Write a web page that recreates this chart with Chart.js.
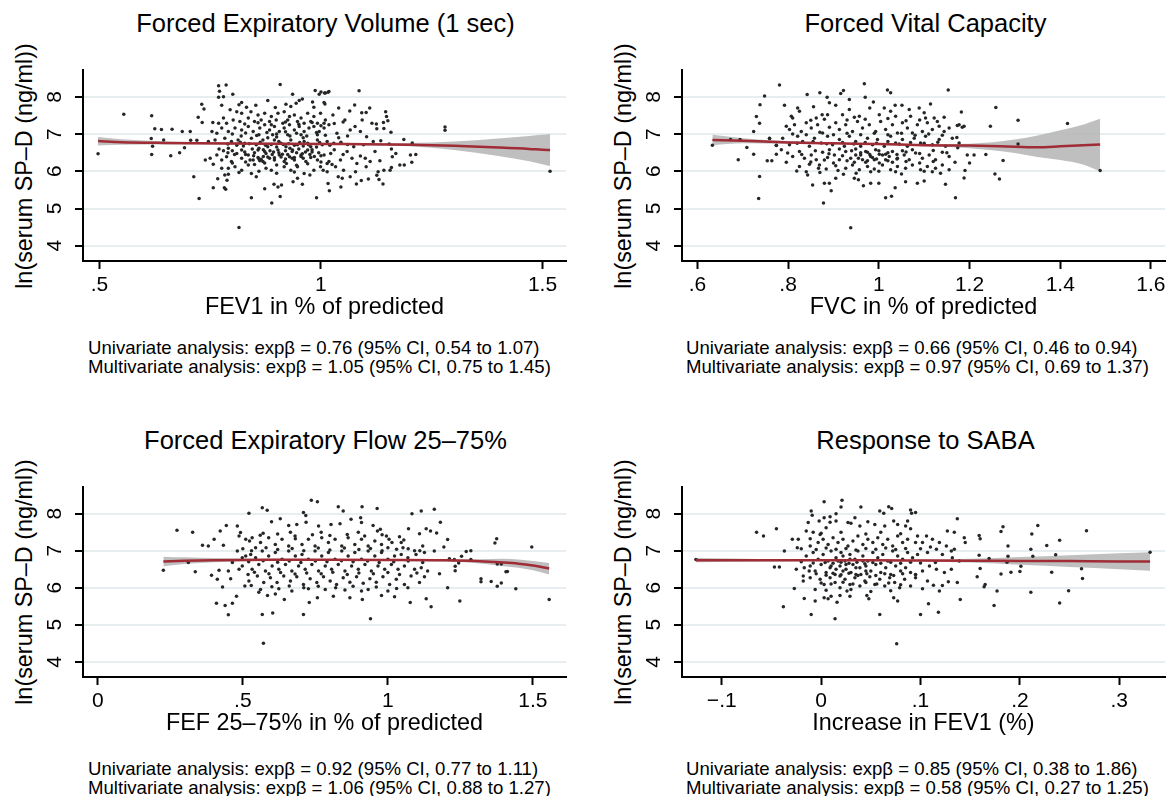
<!DOCTYPE html>
<html>
<head>
<meta charset="utf-8">
<script src="https://cdn.jsdelivr.net/npm/chart.js@4.4.1/dist/chart.umd.min.js"></script>
<style>
  body { margin: 0; background: #fff; width: 1169px; height: 796px; position: relative; overflow: hidden;
         font-family: "Liberation Sans", Arial, Helvetica, sans-serif; color: #000; }
  canvas { position: absolute; }
  .ttl { position: absolute; text-align: center; font-size: 25.5px; line-height: 30px; white-space: nowrap; }
  .note { position: absolute; font-size: 18.6px; line-height: 19px; white-space: nowrap; }
  .ytl { position: absolute; font-size: 23.4px; line-height: 1; white-space: nowrap;
         transform: translate(-50%, -50%) rotate(-90deg); }
</style>
</head>
<body>
<div class="ttl" style="left:83px;width:485px;top:8px">Forced Expiratory Volume (1 sec)</div>
<div class="ttl" style="left:682px;width:487px;top:8px">Forced Vital Capacity</div>
<div class="ttl" style="left:83px;width:485px;top:425px">Forced Expiratory Flow 25–75%</div>
<div class="ttl" style="left:682px;width:487px;top:425px">Response to SABA</div>

<div class="ytl" style="left:25px;top:166px">ln(serum SP–D (ng/ml))</div>
<div class="ytl" style="left:624px;top:166px">ln(serum SP–D (ng/ml))</div>
<div class="ytl" style="left:25px;top:582px">ln(serum SP–D (ng/ml))</div>
<div class="ytl" style="left:624px;top:582px">ln(serum SP–D (ng/ml))</div>

<canvas id="fev1" width="570" height="265" style="left:0;top:60px"></canvas>
<canvas id="fvc" width="570" height="265" style="left:599px;top:60px"></canvas>
<canvas id="fef" width="570" height="265" style="left:0;top:476px"></canvas>
<canvas id="saba" width="570" height="265" style="left:599px;top:476px"></canvas>

<div class="note" style="left:88px;top:338px">Univariate analysis: expβ = 0.76 (95% CI, 0.54 to 1.07)<br>Multivariate analysis: expβ = 1.05 (95% CI, 0.75 to 1.45)</div>
<div class="note" style="left:686px;top:338px">Univariate analysis: expβ = 0.66 (95% CI, 0.46 to 0.94)<br>Multivariate analysis: expβ = 0.97 (95% CI, 0.69 to 1.37)</div>
<div class="note" style="left:88px;top:759px">Univariate analysis: expβ = 0.92 (95% CI, 0.77 to 1.11)<br>Multivariate analysis: expβ = 1.06 (95% CI, 0.88 to 1.27)</div>
<div class="note" style="left:686px;top:759px">Univariate analysis: expβ = 0.85 (95% CI, 0.38 to 1.86)<br>Multivariate analysis: expβ = 0.58 (95% CI, 0.27 to 1.25)</div>

<script>
const FONT = '"Liberation Sans", Arial, Helvetica, sans-serif';

// y axis, shared by all four panels
const yTicks = [4, 5, 6, 7, 8];

// x ticks per panel
const fev1Ticks = [0.5, 1, 1.5];
const fev1TickLabels = ['.5', '1', '1.5'];
const fvcTicks = [0.6, 0.8, 1, 1.2, 1.4, 1.6];
const fvcTickLabels = ['.6', '.8', '1', '1.2', '1.4', '1.6'];
const fefTicks = [0, 0.5, 1, 1.5];
const fefTickLabels = ['0', '.5', '1', '1.5'];
const sabaTicks = [-0.1, 0, 0.1, 0.2, 0.3];
const sabaTickLabels = ['\u2212.1', '0', '.1', '.2', '.3'];

// fitted curve + 95% CI band
const fev1FitX = [0.497, 0.55, 0.65, 0.8, 1.0, 1.2, 1.3, 1.4, 1.47, 1.5, 1.517];
const fev1Fit  = [6.81, 6.78, 6.76, 6.745, 6.735, 6.715, 6.685, 6.64, 6.6, 6.575, 6.57];
const fev1Hi   = [6.92, 6.86, 6.8, 6.775, 6.765, 6.76, 6.8, 6.88, 6.95, 6.98, 7.0];
const fev1Lo   = [6.69, 6.71, 6.72, 6.715, 6.705, 6.67, 6.57, 6.41, 6.27, 6.19, 6.14];

const fvcFitX = [0.633, 0.7, 0.8, 0.9, 1.0, 1.1, 1.2, 1.3, 1.35, 1.4, 1.45, 1.488];
const fvcFit  = [6.84, 6.82, 6.775, 6.75, 6.73, 6.7, 6.69, 6.66, 6.645, 6.67, 6.7, 6.72];
const fvcHi   = [6.98, 6.89, 6.81, 6.775, 6.755, 6.73, 6.74, 6.85, 6.96, 7.1, 7.25, 7.41];
const fvcLo   = [6.7, 6.75, 6.74, 6.725, 6.705, 6.67, 6.62, 6.49, 6.38, 6.3, 6.18, 6.0];

const fefFitX = [0.226, 0.3, 0.4, 0.6, 0.8, 1.0, 1.2, 1.3, 1.4, 1.45, 1.5, 1.556];
const fefFit  = [6.71, 6.73, 6.745, 6.755, 6.755, 6.75, 6.74, 6.72, 6.68, 6.65, 6.6, 6.52];
const fefHi   = [6.84, 6.82, 6.8, 6.78, 6.775, 6.775, 6.77, 6.77, 6.78, 6.76, 6.72, 6.67];
const fefLo   = [6.58, 6.64, 6.69, 6.73, 6.735, 6.725, 6.71, 6.67, 6.58, 6.54, 6.47, 6.36];

const sabaFitX = [-0.126, -0.05, 0, 0.05, 0.1, 0.15, 0.2, 0.25, 0.3, 0.331];
const sabaFit  = [6.745, 6.74, 6.74, 6.74, 6.735, 6.73, 6.725, 6.72, 6.71, 6.71];
const sabaHi   = [6.8, 6.77, 6.76, 6.755, 6.76, 6.78, 6.83, 6.88, 6.93, 6.96];
const sabaLo   = [6.69, 6.71, 6.72, 6.725, 6.71, 6.68, 6.62, 6.56, 6.5, 6.46];

// scatter points [x, ln SP-D]
const fev1Pts = [
  [0.497,6.47],[0.555,7.53],[0.618,7.49],[0.625,7.14],[0.64,7.12],[0.664,7.13],[0.617,6.88],[0.645,6.84],[0.62,6.67],[0.618,6.45],
  [0.661,6.42],[0.687,7.07],[0.705,7.07],[0.692,6.63],[0.681,6.5],[0.706,6.83],[0.72,6.83],[0.713,5.85],[0.725,5.27],[0.731,7.8],
  [0.736,7.67],[0.723,7.45],[0.732,7.31],[0.756,7.31],[0.769,8.3],[0.786,8.32],[0.771,8.15],[0.78,8.0],[0.769,7.99],[0.801,8.07],
  [0.776,7.77],[0.815,4.49],[0.757,5.56],[0.782,5.56],[0.785,5.52],[0.767,5.8],[0.791,5.92],[0.788,5.76],[0.843,5.29],[0.889,5.15],
  [0.908,5.32],[0.908,8.33],[0.88,7.9],[0.897,7.71],[0.873,5.53],[0.894,5.65],[0.903,5.58],[0.911,5.63],[0.936,8.07],[0.937,5.72],
  [0.947,5.81],[0.958,5.65],[0.99,5.29],[0.987,8.17],[1.0,8.13],[1.016,8.12],
  [0.815,7.79],[0.821,7.85],[0.832,7.72],[0.853,7.77],[0.921,7.8],[0.932,7.74],[0.944,7.83],[0.951,7.9],[0.958,7.94],[0.981,7.86],
  [1.007,7.85],[0.984,7.72],[0.996,8.07],[1.008,8.1],
  [0.795,7.65],[0.81,7.6],[0.821,7.56],[0.842,7.6],[0.858,7.51],[0.873,7.56],[0.888,7.47],[0.903,7.56],[0.917,7.6],[0.929,7.47],
  [0.94,7.51],[0.955,7.43],[0.97,7.56],[0.984,7.47],[0.999,7.56],[1.01,7.38],[0.802,7.38],[0.817,7.34],[0.836,7.43],[0.85,7.34],
  [0.865,7.38],[0.884,7.34],[0.899,7.38],[0.914,7.29],[0.925,7.38],[0.947,7.34],[0.962,7.29],[0.977,7.34],[0.992,7.29],[1.007,7.29],
  [0.78,7.43],[0.769,7.29],[0.787,7.29],
  [0.754,7.07],[0.765,7.02],[0.776,7.16],[0.791,7.07],[0.806,7.16],[0.821,7.11],[0.836,7.2],[0.847,7.07],[0.862,7.16],[0.873,7.25],
  [0.884,7.11],[0.895,7.2],[0.906,7.07],[0.917,7.16],[0.929,7.25],[0.94,7.11],[0.951,7.2],[0.962,7.07],[0.973,7.16],[0.984,7.2],
  [0.996,7.07],[1.007,7.16],[1.018,7.25],[0.891,6.98],[0.925,6.98],[0.955,6.98],[0.992,6.98],
  [0.746,6.8],[0.761,6.84],[0.783,6.89],[0.798,6.8],[0.813,6.84],[0.828,6.75],[0.843,6.89],[0.854,6.71],[0.869,6.84],[0.88,6.66],
  [0.895,6.84],[0.91,6.75],[0.921,6.66],[0.932,6.84],[0.947,6.71],[0.962,6.8],[0.977,6.66],[0.992,6.84],[1.003,6.71],[1.014,6.8],
  [0.791,6.62],[0.821,6.57],[0.858,6.57],[0.903,6.57],[0.936,6.57],[0.97,6.57],
  [0.739,6.3],[0.75,6.35],[0.765,6.44],[0.776,6.3],[0.787,6.39],[0.798,6.26],[0.81,6.48],[0.821,6.35],[0.836,6.44],[0.847,6.3],
  [0.858,6.37],[0.869,6.26],[0.876,6.48],[0.884,6.35],[0.895,6.3],[0.906,6.44],[0.917,6.26],[0.929,6.39],[0.94,6.3],[0.955,6.44],
  [0.966,6.26],[0.977,6.37],[0.992,6.3],[1.007,6.44],[1.018,6.26],[0.873,6.53],[0.862,6.28],[0.865,6.32],
  [0.757,6.19],[0.791,6.08],[0.806,6.12],[0.821,6.03],[0.836,6.17],[0.843,5.94],[0.854,5.85],[0.876,6.08],[0.888,6.03],[0.917,6.12],
  [0.932,6.03],[0.947,6.12],[0.962,5.94],[0.984,6.03],[0.999,6.12],[1.014,5.99],[0.776,6.08],[0.783,5.9],
  [1.018,8.14],[1.01,8.1],[1.086,8.16],[1.009,7.81],[1.076,7.78],[1.04,7.7],[1.11,7.7],[1.065,7.62],[1.092,7.57],[1.102,7.58],
  [1.146,7.6],[1.148,7.47],[1.151,7.36],[1.027,7.51],[1.054,7.38],[1.05,7.32],[1.093,7.38],[1.115,7.29],[1.125,7.27],[1.141,7.31],
  [1.142,7.15],[1.158,7.05],[1.126,7.14],[1.28,7.19],[1.28,7.1],[1.187,6.85],[1.206,6.76],[1.214,6.45],[1.202,6.44],[1.205,6.24],
  [1.188,6.17],[1.178,6.17],[1.169,6.48],[1.161,6.39],[1.159,6.6],[1.154,6.73],[1.135,6.82],[1.133,6.28],[1.156,6.03],[1.159,6.1],
  [1.142,6.03],[1.129,5.99],[1.126,5.89],[1.14,5.66],[1.131,5.78],[1.107,5.79],[1.091,5.75],[1.08,5.66],[1.066,5.85],[1.048,5.81],
  [1.039,5.85],[1.045,5.58],[1.019,5.48],[1.016,5.67],[1.517,6.0],[1.078,5.99],[1.102,6.12],[1.111,6.26],[1.1,6.35],[1.089,6.41],
  [1.081,6.21],[1.07,6.35],[1.059,6.53],[1.051,6.03],[1.122,6.53],[1.118,6.8],[1.103,6.93],[1.089,7.07],[1.077,7.2],[1.066,7.11],
  [1.096,6.71],[1.074,6.66],[1.036,7.02],[1.029,6.75],[1.022,6.48],[1.014,6.21],[1.044,6.3],[1.033,6.12],
  [0.86,6.62],[0.87,6.4],[0.875,6.7],[0.885,6.55],[0.89,6.45],[0.9,6.65],[0.905,6.5],[0.91,6.38],[0.915,6.72],[0.92,6.55],
  [0.925,6.45],[0.93,6.62],[0.935,6.35],[0.94,6.7],[0.945,6.5],[0.95,6.6],[0.955,6.4],[0.96,6.68],[0.965,6.52],[0.97,6.75],
  [0.975,6.45],[0.98,6.58],[0.985,6.4],[0.99,6.65],[0.995,6.5],[0.85,6.5],[0.845,6.6],[0.83,6.45],[0.825,6.68],[0.84,6.3],
  [0.88,6.9],[0.9,6.92],[0.93,6.95],[0.96,6.9],[0.86,6.98],[0.82,6.95],[0.8,6.55],[0.81,6.7],[0.79,6.5],[0.77,6.6],
  [0.828,7.27],[0.858,7.3],[0.888,7.25],[0.92,7.32],[0.95,7.26],[0.98,7.31],[1.0,7.22],[1.03,7.28],
  [0.8,7.0],[0.83,7.03],[0.855,6.96],[0.878,7.04],[0.9,7.0],[0.92,7.06],[0.945,7.02],[0.968,6.95],[0.99,7.04],[1.01,6.97],
  [1.04,6.9],[1.06,6.95],
  [0.79,6.73],[0.818,6.78],[0.838,6.74],[0.863,6.78],[0.888,6.72],[0.905,6.8],[0.927,6.74],[0.952,6.77],[0.972,6.71],[0.997,6.77],
  [1.02,6.7],[1.045,6.78],[1.06,6.72],
  [0.78,6.55],[0.805,6.45],[0.828,6.52],[0.848,6.42],[0.87,6.58],[0.893,6.52],[0.913,6.46],[0.935,6.53],[0.958,6.47],[0.98,6.52],
  [1.0,6.42],[1.03,6.58],[1.05,6.45],
  [0.8,6.22],[0.83,6.25],[0.85,6.18],[0.873,6.22],[0.9,6.17],[0.922,6.21],[0.945,6.16],[0.97,6.2],[1.0,6.25],[1.025,6.18],
  [0.815,5.97],[0.86,6.0],[0.9,5.95],[0.94,5.98],[0.975,5.9],[1.005,6.03],
  [0.86,6.33],[0.88,6.38],[0.895,6.36],[0.92,6.33],[0.94,6.37],[0.96,6.35]
];

const fvcPts = [
  [0.781,8.32],[0.748,8.02],[0.738,7.79],[0.73,7.47],[0.737,7.29],[0.724,7.07],[0.709,6.64],[0.724,6.46],[0.737,5.86],[0.735,5.27],
  [0.792,7.77],[0.842,8.06],[0.87,8.11],[0.886,7.99],[0.916,8.09],[0.922,8.17],[0.935,7.93],[0.968,8.35],[0.97,7.99],[1.019,8.18],
  [1.026,8.11],[1.153,8.18],[1.114,7.81],[1.182,7.59],[1.173,7.23],[1.184,7.18],[1.195,6.44],[1.21,6.44],[1.2,6.22],[1.19,6.02],
  [1.169,5.29],[0.938,4.48],[0.878,5.15],[0.854,5.63],[0.895,5.48],[0.891,5.68],[0.84,5.99],[0.819,6.01],[0.796,6.24],[0.764,6.28],
  [0.754,6.28],[0.774,6.46],[1.015,5.29],[1.028,5.33],[1.036,5.56],[1.147,5.65],[1.168,6.24],[1.155,6.04],[1.136,5.95],[1.118,5.99],
  [1.1,5.74],[1.085,5.68],[1.059,5.72],[1.0,5.68],[0.982,5.68],[0.966,5.61],[0.946,5.81],[0.955,5.77],[0.922,5.92],[0.905,5.81],
  [0.88,5.68],[0.867,6.08],[0.843,5.9],
  [0.633,6.7],[0.673,6.85],[0.694,6.85],[0.69,6.31],[0.759,6.88],[0.774,6.7],
  [1.172,6.91],[1.174,6.63],[1.188,5.82],[1.236,6.45],[1.246,7.21],[1.258,7.71],[1.256,5.93],[1.266,5.79],[1.274,6.29],[1.307,7.37],
  [1.307,6.73],[1.416,7.28],[1.488,6.02],
  [0.807,7.48],[0.821,7.7],[0.856,7.73],[0.875,7.52],[0.891,7.84],[0.905,7.77],[0.935,7.66],[0.957,7.48],[0.98,7.7],[0.988,7.86],
  [1.012,7.7],[1.026,7.61],[1.036,7.77],[1.051,7.77],[1.067,7.66],[1.089,7.7],[1.1,7.57],[1.129,7.34],[1.144,7.45],[0.81,7.43],
  [0.825,7.61],[0.862,7.43],[0.887,7.52],[0.92,7.52],[0.946,7.45],[1.001,7.52],[1.037,7.48],[1.07,7.48],[1.103,7.43],[1.122,7.43],
  [0.796,7.21],[0.803,7.12],[0.814,7.25],[0.829,7.07],[0.84,7.3],[0.851,7.16],[0.865,7.25],[0.876,7.03],[0.891,7.18],[0.905,7.3],
  [0.913,7.12],[0.927,7.25],[0.942,7.07],[0.953,7.34],[0.964,7.16],[0.979,7.25],[0.993,7.07],[1.004,7.34],[1.015,7.12],[1.03,7.25],
  [1.041,7.03],[1.052,7.3],[1.063,7.16],[1.074,7.03],[1.085,7.25],[1.096,7.07],[1.107,7.3],[1.118,7.12],[1.133,7.21],[1.144,7.07],
  [1.155,7.16],[1.177,7.25],[1.188,7.21],
  [0.788,6.89],[0.803,6.71],[0.821,6.94],[0.832,6.8],[0.847,6.67],[0.858,6.89],[0.873,6.76],[0.887,6.94],[0.898,6.71],[0.913,6.85],
  [0.924,6.67],[0.935,6.94],[0.949,6.8],[0.96,6.67],[0.975,6.89],[0.986,6.71],[0.997,6.85],[1.012,6.67],[1.026,6.94],[1.037,6.76],
  [1.052,6.85],[1.063,6.67],[1.078,6.89],[1.092,6.76],[1.103,6.94],[1.118,6.71],[1.133,6.85],[1.147,6.67],[1.162,6.89],[1.177,6.76],
  [0.759,6.89],[0.774,6.69],[0.785,6.58],
  [0.799,6.49],[0.81,6.4],[0.825,6.53],[0.836,6.35],[0.851,6.44],[0.862,6.31],[0.876,6.51],[0.887,6.37],[0.902,6.44],[0.913,6.31],
  [0.927,6.53],[0.938,6.35],[0.949,6.44],[0.964,6.31],[0.975,6.51],[0.986,6.37],[1.001,6.46],[1.015,6.31],[1.03,6.53],[1.041,6.35],
  [1.056,6.44],[1.067,6.31],[1.081,6.49],[1.096,6.35],[1.111,6.44],[1.125,6.31],[1.14,6.51],[1.155,6.4],[0.946,6.24],[0.971,6.24],
  [1.001,6.22],
  [0.825,6.13],[0.847,6.19],[0.869,6.17],[0.884,6.06],[0.905,6.15],[0.927,6.08],[0.942,6.17],[0.957,6.04],[0.975,6.13],[0.99,6.06],
  [1.008,6.17],[1.026,6.04],[1.041,6.13],[1.059,6.08],[1.074,6.17],[1.092,6.04],[1.107,6.13],[1.125,6.08],[1.14,6.17],[0.982,5.99],
  [1.037,5.99],
  [0.971,6.53],[0.982,6.4],[0.993,6.58],[1.008,6.44],[1.023,6.4],[0.96,6.44],[0.99,6.31],[1.015,6.46],[1.03,6.24],[0.949,6.6],
  [0.913,6.6],[0.891,6.58],[1.052,6.55],[1.074,6.58],
  [0.85,7.37],[0.88,7.4],[0.93,7.38],[0.97,7.4],[1.02,7.42],[1.06,7.36],[1.09,7.38],
  [0.81,7.0],[0.84,6.98],[0.87,7.05],[0.9,6.98],[0.93,7.02],[0.96,6.98],[0.99,7.02],[1.02,6.98],[1.05,7.02],[1.08,6.97],
  [1.11,7.0],[1.14,6.97],
  [0.82,6.75],[0.855,6.8],[0.885,6.74],[0.92,6.77],[0.945,6.73],[0.97,6.77],[0.995,6.75],[1.02,6.8],[1.045,6.73],[1.07,6.77],
  [1.1,6.75],[1.13,6.78],
  [0.83,6.45],[0.86,6.55],[0.89,6.47],[0.92,6.42],[0.94,6.55],[0.96,6.5],[0.98,6.45],[1.0,6.55],[1.02,6.5],[1.04,6.45],
  [1.06,6.52],[1.09,6.48],[1.12,6.56],[1.15,6.5],
  [0.85,6.25],[0.88,6.3],[0.9,6.22],[0.93,6.28],[0.955,6.35],[0.975,6.28],[0.995,6.33],[1.02,6.28],[1.04,6.33],[1.06,6.26],
  [1.09,6.22],[1.12,6.26],
  [0.87,5.97],[0.91,6.02],[0.95,5.95],[1.0,6.0],[1.05,5.93],[1.1,6.0]
];

const fefPts = [
  [0.226,6.47],
  [0.273,7.55],[0.327,7.5],[0.312,6.68],[0.336,6.43],[0.361,7.15],[0.381,7.13],[0.392,6.34],[0.401,7.31],[0.409,5.58],[0.422,7.53],
  [0.43,6.02],[0.439,5.52],[0.45,5.27],[0.464,5.58],[0.478,5.77],[0.433,7.15],[0.443,7.68],[0.481,7.67],[0.487,7.4],[0.492,7.49],
  [0.521,8.01],[0.567,8.16],[0.584,8.09],[0.567,5.28],[0.603,5.32],[0.571,4.5],[0.709,5.28],[0.736,8.36],[0.757,8.32],[0.829,8.19],
  [0.846,8.07],[0.911,8.19],[0.963,8.14],[0.94,5.16],[0.869,5.73],[0.909,5.91],[0.912,5.68],[0.978,5.79],[1.023,5.76],[1.077,5.6],
  [1.132,5.7],[1.149,5.49],[1.083,8.0],[1.115,8.07],[1.16,8.12],[1.071,7.59],[1.109,7.46],[1.132,7.59],[1.147,7.53],[1.055,7.29],
  [1.12,7.13],[1.092,7.0],[0.812,5.77],[0.729,5.6],[0.757,5.73],[0.643,5.68],[0.612,5.83],[0.585,5.79],[0.555,5.88],[0.507,6.05],
  [0.529,6.06],[0.518,6.36],[0.487,6.5],[0.418,6.47],[0.412,6.23],[0.458,6.24],[0.45,6.45],[0.464,6.68],[0.498,6.81],[0.481,6.99],
  [0.527,6.9],[0.544,7.08],[0.532,7.35],[0.523,7.26],[0.57,7.47],[0.599,7.78],[0.629,7.86],[0.658,7.68],[0.664,7.5],[0.686,7.71],
  [0.709,8.03],[0.717,7.95],[0.718,7.77],[0.761,7.67],[0.77,7.5],[0.804,7.71],[0.835,7.73],[0.873,7.85],[0.906,7.89],[0.909,7.76],
  [0.898,7.5],[0.949,7.68],[0.964,7.53],[0.974,7.58],[0.995,7.4],[1.004,7.31],[1.014,7.22],
  [1.181,7.77],[1.168,7.48],[1.206,7.3],[1.193,7.1],[1.212,6.78],[1.229,6.76],[1.254,6.85],[1.286,7.0],[1.286,6.76],[1.232,6.46],
  [1.206,6.0],[1.248,5.64],[1.178,6.38],[1.321,6.24],[1.321,6.16],[1.356,6.17],[1.369,7.21],[1.375,7.32],[1.377,6.64],[1.391,6.64],
  [1.407,6.43],[1.412,6.44],[1.377,6.04],[1.391,6.13],[1.441,5.97],[1.496,7.1],[1.556,5.68],[1.27,6.98],[1.244,6.67],[1.232,6.58],
  [0.51,7.31],[0.561,7.22],[0.589,7.35],[0.612,7.17],[0.635,7.31],[0.658,7.13],[0.681,7.32],[0.704,7.17],[0.726,7.31],[0.749,7.13],
  [0.772,7.35],[0.795,7.22],[0.818,7.31],[0.841,7.13],[0.863,7.35],[0.886,7.17],[0.909,7.31],[0.932,7.13],[0.955,7.26],[0.978,7.17],
  [1.0,7.08],[1.046,7.22],[1.052,7.08],
  [0.51,6.86],[0.544,6.81],[0.567,6.99],[0.589,6.86],[0.612,6.95],[0.635,6.77],[0.658,6.99],[0.681,6.86],[0.704,6.9],[0.726,6.77],
  [0.749,6.99],[0.772,6.86],[0.795,6.95],[0.818,6.77],[0.841,6.99],[0.863,6.86],[0.886,6.95],[0.909,6.77],[0.932,6.99],[0.955,6.86],
  [0.978,6.95],[1.0,6.77],[1.023,6.86],[1.046,6.9],[1.069,6.81],[1.097,6.9],[1.126,6.95],[1.16,6.99],
  [0.498,6.59],[0.532,6.5],[0.555,6.63],[0.578,6.45],[0.601,6.59],[0.624,6.5],[0.647,6.63],[0.669,6.45],[0.692,6.59],[0.715,6.5],
  [0.738,6.63],[0.761,6.45],[0.784,6.59],[0.806,6.5],[0.829,6.63],[0.852,6.45],[0.875,6.59],[0.898,6.5],[0.921,6.63],[0.943,6.45],
  [0.966,6.59],[0.989,6.5],[1.012,6.63],[1.035,6.5],[1.057,6.59],[1.092,6.5],[1.115,6.54],[1.137,6.45],
  [0.521,6.18],[0.55,6.32],[0.572,6.14],[0.595,6.27],[0.618,6.14],[0.641,6.32],[0.664,6.18],[0.686,6.3],[0.709,6.09],[0.732,6.24],
  [0.755,6.14],[0.778,6.3],[0.801,6.18],[0.823,6.09],[0.846,6.27],[0.869,6.15],[0.892,6.3],[0.915,6.12],[0.938,6.24],[0.96,6.15],
  [0.983,6.3],[1.006,6.09],[1.029,6.23],[1.057,6.09],[1.08,6.32],[1.109,6.14],[1.126,6.3],
  [0.561,5.95],[0.624,5.97],[0.669,5.91],[0.726,5.97],[0.784,5.95],[0.852,5.94],[0.932,5.95],[1.0,5.91],[1.069,6.0],
  [0.56,7.42],[0.62,7.45],[0.68,7.4],[0.74,7.43],[0.8,7.41],[0.86,7.44],[0.92,7.4],[0.98,7.43],[1.04,7.38],
  [0.5,7.05],[0.53,7.0],[0.58,7.08],[0.62,7.03],[0.67,7.06],[0.71,7.0],[0.76,7.07],[0.8,7.02],[0.85,7.07],[0.9,7.03],
  [0.94,7.06],[0.98,7.0],[1.03,7.04],[1.07,7.05],[1.11,7.0],
  [0.52,6.7],[0.57,6.73],[0.62,6.69],[0.66,6.72],[0.7,6.68],[0.75,6.72],[0.79,6.7],[0.84,6.73],[0.88,6.7],[0.93,6.72],
  [0.97,6.68],[1.02,6.7],[1.07,6.72],[1.12,6.68],
  [0.54,6.42],[0.59,6.38],[0.63,6.41],[0.68,6.37],[0.72,6.4],[0.77,6.38],[0.81,6.42],[0.86,6.36],[0.9,6.4],[0.95,6.38],
  [1.0,6.41],[1.04,6.36],[1.1,6.4],
  [0.6,6.03],[0.66,6.05],[0.71,6.0],[0.76,6.04],[0.82,6.0],[0.88,6.04],[0.96,6.02],[1.03,5.98]
];

const sabaPts = [
  [-0.126,6.76],[-0.065,7.5],
  [-0.058,7.4],[-0.045,7.59],[-0.047,6.56],[-0.042,6.56],[-0.037,6.99],[-0.038,5.49],[-0.029,7.31],[-0.027,5.98],[-0.024,7.08],
  [-0.023,7.31],[-0.017,5.71],[-0.01,5.28],[-0.01,8.07],[-0.009,7.96],[-0.006,5.64],[0.003,8.32],[0.014,5.16],[0.021,8.36],[0.02,8.18],
  [0.04,8.18],[0.015,8.0],[0.009,7.92],[0.003,7.89],[-0.002,7.8],[0.059,8.07],[0.063,8.01],[0.068,8.19],[0.071,8.14],[0.09,8.1],
  [0.091,8.01],[0.095,8.03],[0.087,7.8],[0.073,7.8],[0.137,7.86],[0.127,7.53],[0.134,7.5],[0.144,7.35],[0.145,7.22],[0.159,7.41],
  [0.16,7.32],[0.159,6.88],[0.169,6.79],[0.16,6.52],[0.157,6.3],[0.165,6.09],[0.164,6.03],[0.177,5.91],[0.174,5.52],[0.14,5.68],
  [0.137,6.14],[0.128,6.16],[0.119,5.91],[0.118,5.34],[0.122,6.06],[0.113,6.07],[0.108,5.57],[0.1,5.28],[0.076,4.49],[0.077,5.64],
  [0.073,5.73],[0.059,5.28],[0.048,5.7],[0.046,5.79],[0.029,5.77],[0.026,5.91],[0.019,5.79],[0.016,5.61],[0.01,5.77],[0.007,5.7],
  [0.003,5.73],[-0.006,5.95],[-0.011,6.27],[-0.018,6.18],[-0.018,6.32],[-0.025,6.5],[-0.017,6.54],[-0.012,6.45],[-0.015,7.53],[-0.013,7.76],
  [-0.008,7.5],[-0.011,7.32],[-0.001,7.44],[0.005,7.62],[0.009,7.77],[0.015,7.8],[0.027,7.76],[0.03,7.74],[0.034,7.89],[0.039,7.67],
  [0.047,7.78],[0.054,7.71],[0.064,7.67],[0.077,7.71],[0.085,7.67],[0.09,7.59],[0.097,7.4],[0.106,7.4],[0.112,7.31],[0.119,7.22],
  [0.126,7.13],[0.131,6.99],[0.134,7.04],[0.116,7.04],[0.107,6.95],[0.102,7.22],[0.095,7.22],[0.122,6.9],[0.132,6.81],[0.139,6.72],
  [0.131,6.5],[0.124,6.41],[0.116,6.5],[0.109,6.59],[0.102,6.45],[0.095,6.27],[0.09,6.05],[0.102,5.97],[0.095,6.36],[0.107,6.18],
  [0.183,7.65],[0.181,7.52],[0.188,7.13],[0.188,6.85],[0.187,6.69],[0.181,6.37],[0.191,6.42],[0.201,6.58],[0.2,6.44],[0.211,5.88],
  [0.211,7.04],[0.212,7.45],[0.213,6.85],[0.218,7.68],[0.227,7.14],[0.232,6.42],[0.236,6.89],[0.24,7.28],[0.24,5.59],[0.249,5.92],
  [0.262,6.51],[0.263,6.25],[0.267,7.54],[0.331,6.96],
  [-0.011,7.13],[-0.003,7.22],[0.002,7.31],[0.007,7.17],[0.012,7.35],[0.017,7.22],[0.022,7.31],[0.027,7.13],[0.032,7.26],[0.037,7.4],
  [0.042,7.17],[0.047,7.31],[0.052,7.22],[0.057,7.35],[0.062,7.17],[0.067,7.31],[0.072,7.13],[0.077,7.4],[0.082,7.22],[0.087,7.31],
  [-0.015,6.86],[-0.008,6.95],[-0.003,6.77],[0.002,6.9],[0.007,6.72],[0.01,6.99],[0.015,6.81],[0.02,6.95],[0.024,6.72],[0.029,6.9],
  [0.034,6.77],[0.037,6.99],[0.042,6.86],[0.047,6.72],[0.052,6.95],[0.057,6.81],[0.062,6.9],[0.067,6.72],[0.072,6.99],[0.077,6.86],
  [0.082,6.77],[0.087,6.95],[0.092,6.81],[0.097,6.9],
  [-0.011,6.59],[-0.006,6.45],[0.0,6.63],[0.005,6.41],[0.009,6.54],[0.014,6.36],[0.019,6.59],[0.022,6.45],[0.025,6.63],[0.03,6.41],
  [0.035,6.54],[0.04,6.36],[0.045,6.59],[0.05,6.45],[0.055,6.63],[0.06,6.41],[0.065,6.54],[0.07,6.36],[0.075,6.59],[0.08,6.45],
  [0.085,6.54],[0.09,6.41],
  [-0.001,6.23],[0.003,6.09],[0.009,6.27],[0.014,6.14],[0.019,6.0],[0.024,6.23],[0.029,6.09],[0.034,6.27],[0.039,6.05],[0.044,6.18],
  [0.049,6.3],[0.054,6.09],[0.059,6.23],[0.064,6.05],[0.069,6.27],[0.074,6.14],[0.079,6.0],[0.084,6.23],
  [0.017,6.72],[0.025,6.5],[0.032,6.63],[0.039,6.54],[0.029,6.77],[0.022,6.86],[0.015,6.5],[0.035,6.36],[0.042,6.72],[0.045,6.45],
  [0.019,6.32],[0.01,6.59],
  [0.0,7.47],[0.02,7.5],[0.045,7.45],[0.06,7.5],[0.08,7.46],
  [-0.02,7.05],[-0.005,7.03],[0.005,7.07],[0.015,7.04],[0.025,7.06],[0.035,7.02],[0.045,7.06],[0.055,7.04],[0.065,7.07],[0.075,7.03],
  [0.085,7.06],[0.1,7.05],[0.11,7.1],
  [-0.02,6.7],[-0.008,6.67],[0.004,6.68],[0.012,6.66],[0.02,6.69],[0.028,6.66],[0.036,6.69],[0.044,6.65],[0.052,6.68],[0.06,6.66],
  [0.07,6.69],[0.08,6.66],[0.09,6.69],[0.1,6.67],[0.115,6.68],
  [-0.005,6.38],[0.005,6.34],[0.012,6.39],[0.02,6.35],[0.028,6.39],[0.037,6.33],[0.046,6.38],[0.055,6.33],[0.064,6.38],[0.073,6.33],
  [0.082,6.38],[0.095,6.35],
  [0.0,6.13],[0.01,6.1],[0.022,6.15],[0.032,6.1],[0.045,6.14],[0.056,6.1],[0.068,6.13],[0.08,6.08],
  [0.005,5.93],[0.03,5.95],[0.05,5.9],[0.07,5.92]
];

function xy(xs, ys) {
  return xs.map((x, i) => ({ x: x, y: ys[i] }));
}

function panel(id, pts, fitX, fit, hi, lo, xMin, xMax, ticks, tickLabels, xTitle, padRight, padTop) {
  new Chart(document.getElementById(id), {
    type: 'scatter',
    data: {
      datasets: [
        { type: 'line', data: xy(fitX, fit), borderColor: '#a02c36', borderWidth: 2.5, pointRadius: 0,
          fill: false, cubicInterpolationMode: 'monotone', order: 0 },
        { data: pts.map(p => ({ x: p[0], y: p[1] })), pointRadius: 1.75, pointBackgroundColor: '#262626',
          pointBorderWidth: 0, order: 1 },
        { type: 'line', data: xy(fitX, hi), borderWidth: 0, pointRadius: 0, backgroundColor: 'rgba(180,180,180,0.85)',
          fill: '+1', cubicInterpolationMode: 'monotone', order: 2 },
        { type: 'line', data: xy(fitX, lo), borderWidth: 0, pointRadius: 0, fill: false,
          cubicInterpolationMode: 'monotone', order: 2 }
      ]
    },
    options: {
      responsive: false,
      animation: false,
      events: [],
      layout: { padding: { top: padTop, right: padRight, left: 0, bottom: 0 } },
      plugins: { legend: { display: false }, tooltip: { enabled: false } },
      scales: {
        x: {
          type: 'linear', min: xMin, max: xMax,
          afterBuildTicks: s => { s.ticks = ticks.map(v => ({ value: v })); },
          afterFit: s => { s.height = 64; s.paddingLeft = 0; s.paddingRight = 0; },
          grid: { drawOnChartArea: false, tickLength: 8, tickColor: '#000', tickWidth: 2 },
          border: { color: '#000', width: 2 },
          ticks: { color: '#000', font: { family: FONT, size: 21 }, padding: 4, maxRotation: 0, autoSkip: false,
                   callback: (v, i) => tickLabels[i] },
          title: { display: true, text: xTitle, color: '#000', font: { family: FONT, size: 23.4 },
                   padding: { top: 0, bottom: 3 } }
        },
        y: {
          type: 'linear', min: 3.59, max: 8.72,
          afterBuildTicks: s => { s.ticks = yTicks.map(v => ({ value: v })); },
          afterFit: s => { s.width = 83; s.paddingTop = 0; s.paddingBottom = 0; },
          grid: { color: '#e6eef0', lineWidth: 2, tickLength: 8, tickColor: '#000', tickWidth: 2 },
          border: { color: '#000', width: 2 },
          ticks: { color: '#000', font: { family: FONT, size: 21 }, padding: 14, minRotation: 90, maxRotation: 90,
                   crossAlign: 'center', autoSkip: false, callback: v => String(v) }
        }
      }
    }
  });
}

panel('fev1', fev1Pts, fev1FitX, fev1Fit, fev1Hi, fev1Lo, 0.463, 1.553, fev1Ticks, fev1TickLabels,
      'FEV1 in % of predicted', 2, 10);
panel('fvc', fvcPts, fvcFitX, fvcFit, fvcHi, fvcLo, 0.566, 1.631, fvcTicks, fvcTickLabels,
      'FVC in % of predicted', 0, 10);
panel('fef', fefPts, fefFitX, fefFit, fefHi, fefLo, -0.051, 1.614, fefTicks, fefTickLabels,
      'FEF 25–75% in % of predicted', 2, 11);
panel('saba', sabaPts, sabaFitX, sabaFit, sabaHi, sabaLo, -0.14, 0.346, sabaTicks, sabaTickLabels,
      'Increase in FEV1 (%)', 0, 11);
</script>
</body>
</html>
